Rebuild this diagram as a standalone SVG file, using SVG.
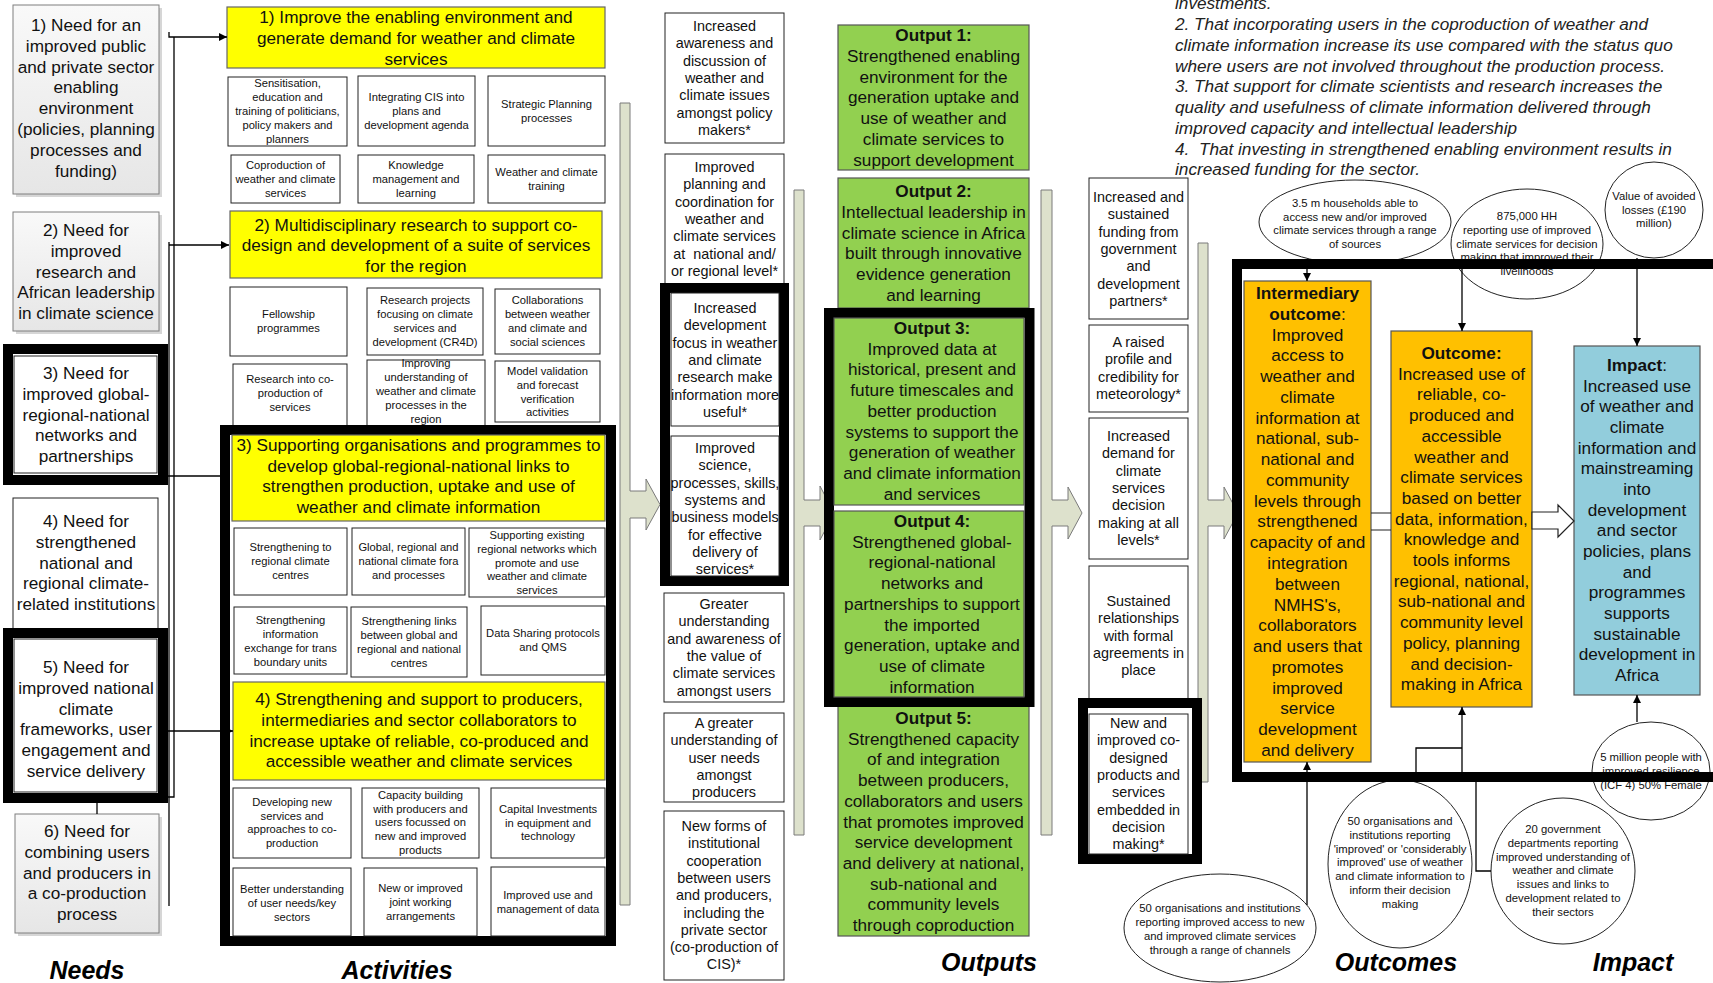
<svg xmlns="http://www.w3.org/2000/svg" width="1713" height="983" viewBox="0 0 1713 983">
<defs>
<linearGradient id="needFill" x1="0" y1="0" x2="0" y2="1">
<stop offset="0" stop-color="#f9f9f9"/><stop offset="1" stop-color="#e6e6e6"/>
</linearGradient>
<marker id="ah" markerWidth="8" markerHeight="8" refX="8" refY="4" orient="auto" markerUnits="userSpaceOnUse"><path d="M0,0 L8,4 L0,8 z" fill="#000"/></marker>
<style>
text{font-family:"Liberation Sans",Arial,sans-serif;fill:#111;text-anchor:middle}
.L{font-size:17.2px}
.i{font-size:14.4px}
.s{font-size:11.2px}
.e{font-size:11.3px}
.b{font-weight:bold}
.it{font-size:17.2px;font-style:italic;text-anchor:start;fill:#222}
.big{font-size:25px;font-weight:bold;font-style:italic;fill:#000}
.need{fill:url(#needFill);stroke:#7f7f7f;stroke-width:1}
.shadow{fill:#d6d6d6}
.box{fill:#fff;stroke:#222;stroke-width:1}
.yel{fill:#ffff00;stroke:#666;stroke-width:1.2}
.grn{fill:#92d050;stroke:#555;stroke-width:1.2}
.org{fill:#ffc000;stroke:#555;stroke-width:1.2}
.blu{fill:#92cddc;stroke:#555;stroke-width:1.2}
.frame{fill:none;stroke:#000;stroke-width:10}
.bar{fill:#dde1cc;stroke:#7a7a7a;stroke-width:1}
.ell{fill:#fff;stroke:#222;stroke-width:1}
.ln{fill:none;stroke:#000;stroke-width:1.3}
.hollow{fill:#fff;stroke:#222;stroke-width:1.2}
</style>
</defs>
<rect width="1713" height="983" fill="#fff"/>

<!-- flow bars with block arrows between columns -->
<g id="flow-bars">
<path class="bar" d="M620,103 H630 V491 H646 V479 L660,504.5 L646,530 V518 H630 V905 H620 Z"/>
<path class="bar" d="M794,190 H804 V500 H820 V486 L834,513 L820,540 V526 H804 V835 H794 Z"/>
<path class="bar" d="M1041,190 H1052 V500 H1068 V487 L1082,513 L1068,539 V526 H1052 V835 H1041 Z"/>
<path class="bar" d="M1198,243 H1208 V500 H1224 V487 L1238,513 L1224,539 V526 H1208 V782 H1198 Z"/>
</g>

<!-- Needs -->
<g id="need1">
<rect class="shadow" x="16" y="8" width="146" height="189"/>
<rect class="need" x="13" y="5" width="146" height="189"/>
<text class="L" y="31"><tspan x="86">1) Need for an</tspan><tspan x="86" dy="20.8">improved public</tspan><tspan x="86" dy="20.8">and private sector</tspan><tspan x="86" dy="20.8">enabling</tspan><tspan x="86" dy="20.8">environment</tspan><tspan x="86" dy="20.8">(policies, planning</tspan><tspan x="86" dy="20.8">processes and</tspan><tspan x="86" dy="20.8">funding)</tspan></text>
</g>
<g id="need2">
<rect class="shadow" x="16" y="215" width="146" height="119"/>
<rect class="need" x="13" y="212" width="146" height="119"/>
<text class="L" y="236"><tspan x="86">2) Need for</tspan><tspan x="86" dy="20.8">improved</tspan><tspan x="86" dy="20.8">research and</tspan><tspan x="86" dy="20.8">African leadership</tspan><tspan x="86" dy="20.8">in climate science</tspan></text>
</g>
<g id="need3">
<rect class="frame" x="8" y="349" width="155" height="131"/>
<rect class="box" x="14" y="356" width="143" height="117"/>
<text class="L" y="379"><tspan x="86">3) Need for</tspan><tspan x="86" dy="20.8">improved global-</tspan><tspan x="86" dy="20.8">regional-national</tspan><tspan x="86" dy="20.8">networks and</tspan><tspan x="86" dy="20.8">partnerships</tspan></text>
</g>
<g id="need4">
<rect class="box" x="13" y="498" width="145" height="135"/>
<text class="L" y="527"><tspan x="86">4) Need for</tspan><tspan x="86" dy="20.8">strengthened</tspan><tspan x="86" dy="20.8">national and</tspan><tspan x="86" dy="20.8">regional climate-</tspan><tspan x="86" dy="20.8">related institutions</tspan></text>
</g>
<g id="need5">
<rect class="frame" x="8" y="633" width="155" height="165"/>
<rect class="box" x="14" y="639" width="143" height="153"/>
<text class="L" y="673"><tspan x="86">5) Need for</tspan><tspan x="86" dy="20.8">improved national</tspan><tspan x="86" dy="20.8">climate</tspan><tspan x="86" dy="20.8">frameworks, user</tspan><tspan x="86" dy="20.8">engagement and</tspan><tspan x="86" dy="20.8">service delivery</tspan></text>
</g>
<g id="need6">
<rect class="shadow" x="18" y="817" width="144" height="119"/>
<rect class="need" x="15" y="814" width="144" height="119"/>
<text class="L" y="837"><tspan x="87">6) Need for</tspan><tspan x="87" dy="20.8">combining users</tspan><tspan x="87" dy="20.8">and producers in</tspan><tspan x="87" dy="20.8">a co-production</tspan><tspan x="87" dy="20.8">process</tspan></text>
</g>

<!-- Activities -->
<g id="activity1">
<rect class="yel" x="227" y="7" width="378" height="61"/>
<text class="L" y="23"><tspan x="416">1) Improve the enabling environment and</tspan><tspan x="416" dy="21">generate demand for weather and climate</tspan><tspan x="416" dy="21">services</tspan></text>
</g>
<g id="act1-sensitisation"><rect class="box" x="228" y="77" width="119" height="69"/><text class="s" y="87"><tspan x="287.5">Sensitisation,</tspan><tspan x="287.5" dy="14">education and</tspan><tspan x="287.5" dy="14">training of politicians,</tspan><tspan x="287.5" dy="14">policy makers and</tspan><tspan x="287.5" dy="14">planners</tspan></text></g>
<g id="act1-integrating"><rect class="box" x="358" y="76" width="117" height="70"/><text class="s" y="101"><tspan x="416.5">Integrating CIS into</tspan><tspan x="416.5" dy="14">plans and</tspan><tspan x="416.5" dy="14">development agenda</tspan></text></g>
<g id="act1-strategic"><rect class="box" x="488" y="76" width="117" height="70"/><text class="s" y="108"><tspan x="546.5">Strategic Planning</tspan><tspan x="546.5" dy="14">processes</tspan></text></g>
<g id="act1-coproduction"><rect class="box" x="231" y="155" width="109" height="48"/><text class="s" y="169"><tspan x="285.5">Coproduction of</tspan><tspan x="285.5" dy="14">weather and climate</tspan><tspan x="285.5" dy="14">services</tspan></text></g>
<g id="act1-knowledge"><rect class="box" x="358" y="155" width="116" height="48"/><text class="s" y="169"><tspan x="416">Knowledge</tspan><tspan x="416" dy="14">management and</tspan><tspan x="416" dy="14">learning</tspan></text></g>
<g id="act1-training"><rect class="box" x="488" y="155" width="117" height="48"/><text class="s" y="176"><tspan x="546.5">Weather and climate</tspan><tspan x="546.5" dy="14">training</tspan></text></g>

<g id="activity2">
<rect class="yel" x="230" y="211" width="372" height="67"/>
<text class="L" y="230.5"><tspan x="416">2) Multidisciplinary research to support co-</tspan><tspan x="416" dy="20.8">design and development of a suite of services</tspan><tspan x="416" dy="20.8">for the region</tspan></text>
</g>
<g id="act2-fellowship"><rect class="box" x="230" y="287" width="117" height="69"/><text class="s" y="318"><tspan x="288.5">Fellowship</tspan><tspan x="288.5" dy="14">programmes</tspan></text></g>
<g id="act2-projects"><rect class="box" x="367" y="288" width="116" height="67"/><text class="s" y="304"><tspan x="425">Research projects</tspan><tspan x="425" dy="14">focusing on climate</tspan><tspan x="425" dy="14">services and</tspan><tspan x="425" dy="14">development (CR4D)</tspan></text></g>
<g id="act2-collaborations"><rect class="box" x="495" y="289" width="105" height="65"/><text class="s" y="304"><tspan x="547.5">Collaborations</tspan><tspan x="547.5" dy="14">between weather</tspan><tspan x="547.5" dy="14">and climate and</tspan><tspan x="547.5" dy="14">social sciences</tspan></text></g>
<g id="act2-coproduction-research"><rect class="box" x="233" y="364" width="114" height="64"/><text class="s" y="383"><tspan x="290">Research into co-</tspan><tspan x="290" dy="14">production of</tspan><tspan x="290" dy="14">services</tspan></text></g>
<g id="act2-processes"><rect class="box" x="367" y="360" width="118" height="68"/><text class="s" y="367"><tspan x="426">Improving</tspan><tspan x="426" dy="14">understanding of</tspan><tspan x="426" dy="14">weather and climate</tspan><tspan x="426" dy="14">processes in the</tspan><tspan x="426" dy="14">region</tspan></text></g>
<g id="act2-validation"><rect class="box" x="495" y="361" width="105" height="61"/><text class="s" y="375"><tspan x="547.5">Model validation</tspan><tspan x="547.5" dy="13.8">and forecast</tspan><tspan x="547.5" dy="13.8">verification</tspan><tspan x="547.5" dy="13.8">activities</tspan></text></g>

<g id="frame-activities-3-4"><rect class="frame" x="225" y="430" width="386" height="511"/></g>

<g id="activity3">
<rect class="yel" x="232" y="435" width="373" height="86"/>
<text class="L" y="451"><tspan x="418.5">3) Supporting organisations and programmes to</tspan><tspan x="418.5" dy="20.7">develop global-regional-national links to</tspan><tspan x="418.5" dy="20.7">strengthen production, uptake and use of</tspan><tspan x="418.5" dy="20.7">weather and climate information</tspan></text>
</g>
<g id="act3-rcc"><rect class="box" x="234" y="528" width="113" height="67"/><text class="s" y="551"><tspan x="290.5">Strengthening to</tspan><tspan x="290.5" dy="14">regional climate</tspan><tspan x="290.5" dy="14">centres</tspan></text></g>
<g id="act3-fora"><rect class="box" x="352" y="528" width="113" height="67"/><text class="s" y="551"><tspan x="408.5">Global, regional and</tspan><tspan x="408.5" dy="14">national climate fora</tspan><tspan x="408.5" dy="14">and processes</tspan></text></g>
<g id="act3-networks"><rect class="box" x="469" y="528" width="136" height="69"/><text class="s" y="539"><tspan x="537">Supporting existing</tspan><tspan x="537" dy="13.8">regional networks which</tspan><tspan x="537" dy="13.8">promote and use</tspan><tspan x="537" dy="13.8">weather and climate</tspan><tspan x="537" dy="13.8">services</tspan></text></g>
<g id="act3-exchange"><rect class="box" x="234" y="607" width="113" height="67"/><text class="s" y="624"><tspan x="290.5">Strengthening</tspan><tspan x="290.5" dy="14">information</tspan><tspan x="290.5" dy="14">exchange for trans</tspan><tspan x="290.5" dy="13.5">boundary units</tspan></text></g>
<g id="act3-links"><rect class="box" x="351" y="607" width="116" height="70"/><text class="s" y="625"><tspan x="409">Strengthening links</tspan><tspan x="409" dy="14">between global and</tspan><tspan x="409" dy="14">regional and national</tspan><tspan x="409" dy="14">centres</tspan></text></g>
<g id="act3-datasharing"><rect class="box" x="481" y="606" width="124" height="69"/><text class="s" y="637"><tspan x="543">Data Sharing protocols</tspan><tspan x="543" dy="14">and QMS</tspan></text></g>

<g id="activity4">
<rect class="yel" x="233" y="682" width="372" height="98"/>
<text class="L" y="705"><tspan x="419">4) Strengthening and support to producers,</tspan><tspan x="419" dy="20.8">intermediaries and sector collaborators to</tspan><tspan x="419" dy="20.8">increase uptake of reliable, co-produced and</tspan><tspan x="419" dy="20.8">accessible weather and climate services</tspan></text>
</g>
<g id="act4-newservices"><rect class="box" x="233" y="788" width="118" height="70"/><text class="s" y="806"><tspan x="292">Developing new</tspan><tspan x="292" dy="13.7">services and</tspan><tspan x="292" dy="13.7">approaches to co-</tspan><tspan x="292" dy="13.7">production</tspan></text></g>
<g id="act4-capacity"><rect class="box" x="362" y="788" width="117" height="70"/><text class="s" y="799"><tspan x="420.5">Capacity building</tspan><tspan x="420.5" dy="13.7">with producers and</tspan><tspan x="420.5" dy="13.7">users focussed on</tspan><tspan x="420.5" dy="13.7">new and improved</tspan><tspan x="420.5" dy="13.7">products</tspan></text></g>
<g id="act4-capital"><rect class="box" x="491" y="788" width="114" height="70"/><text class="s" y="813"><tspan x="548">Capital Investments</tspan><tspan x="548" dy="13.5">in equipment and</tspan><tspan x="548" dy="13.5">technology</tspan></text></g>
<g id="act4-userneeds"><rect class="box" x="233" y="868" width="118" height="68"/><text class="s" y="893"><tspan x="292">Better understanding</tspan><tspan x="292" dy="14">of user needs/key</tspan><tspan x="292" dy="14">sectors</tspan></text></g>
<g id="act4-joint"><rect class="box" x="364" y="868" width="113" height="68"/><text class="s" y="892"><tspan x="420.5">New or improved</tspan><tspan x="420.5" dy="14">joint working</tspan><tspan x="420.5" dy="14">arrangements</tspan></text></g>
<g id="act4-data"><rect class="box" x="491" y="867" width="114" height="69"/><text class="s" y="899"><tspan x="548">Improved use and</tspan><tspan x="548" dy="14">management of data</tspan></text></g>

<!-- immediate results between activities and outputs -->
<g id="result-awareness"><rect class="box" x="665" y="13" width="119" height="130"/><text class="i" y="31"><tspan x="724.5">Increased</tspan><tspan x="724.5" dy="17.3">awareness and</tspan><tspan x="724.5" dy="17.3">discussion of</tspan><tspan x="724.5" dy="17.3">weather and</tspan><tspan x="724.5" dy="17.3">climate issues</tspan><tspan x="724.5" dy="17.3">amongst policy</tspan><tspan x="724.5" dy="17.3">makers*</tspan></text></g>
<g id="result-planning"><rect class="box" x="665" y="154" width="119" height="132"/><text class="i" y="172"><tspan x="724.5">Improved</tspan><tspan x="724.5" dy="17.3">planning and</tspan><tspan x="724.5" dy="17.3">coordination for</tspan><tspan x="724.5" dy="17.3">weather and</tspan><tspan x="724.5" dy="17.3">climate services</tspan><tspan x="724.5" dy="17.3">at&#160; national and/</tspan><tspan x="724.5" dy="17.3">or regional level*</tspan></text></g>
<g id="frame-results"><rect class="frame" x="665" y="288" width="119" height="293"/></g>
<g id="result-research-focus"><rect class="box" x="671" y="293" width="108" height="133"/><text class="i" y="313"><tspan x="725">Increased</tspan><tspan x="725" dy="17.3">development</tspan><tspan x="725" dy="17.3">focus in weather</tspan><tspan x="725" dy="17.3">and climate</tspan><tspan x="725" dy="17.3">research make</tspan><tspan x="725" dy="17.3">information more</tspan><tspan x="725" dy="17.3">useful*</tspan></text></g>
<g id="result-science"><rect class="box" x="671" y="436" width="108" height="140"/><text class="i" y="453"><tspan x="725">Improved</tspan><tspan x="725" dy="17.3">science,</tspan><tspan x="725" dy="17.3">processes, skills,</tspan><tspan x="725" dy="17.3">systems and</tspan><tspan x="725" dy="17.3">business models</tspan><tspan x="725" dy="17.3">for effective</tspan><tspan x="725" dy="17.3">delivery of</tspan><tspan x="725" dy="17.3">services*</tspan></text></g>
<g id="result-value"><rect class="box" x="664" y="593" width="120" height="109"/><text class="i" y="609"><tspan x="724">Greater</tspan><tspan x="724" dy="17.3">understanding</tspan><tspan x="724" dy="17.3">and awareness of</tspan><tspan x="724" dy="17.3">the value of</tspan><tspan x="724" dy="17.3">climate services</tspan><tspan x="724" dy="17.3">amongst users</tspan></text></g>
<g id="result-user-needs"><rect class="box" x="664" y="713" width="120" height="89"/><text class="i" y="728"><tspan x="724">A greater</tspan><tspan x="724" dy="17.3">understanding of</tspan><tspan x="724" dy="17.3">user needs</tspan><tspan x="724" dy="17.3">amongst</tspan><tspan x="724" dy="17.3">producers</tspan></text></g>
<g id="result-cooperation"><rect class="box" x="664" y="811" width="120" height="169"/><text class="i" y="831"><tspan x="724">New forms of</tspan><tspan x="724" dy="17.3">institutional</tspan><tspan x="724" dy="17.3">cooperation</tspan><tspan x="724" dy="17.3">between users</tspan><tspan x="724" dy="17.3">and producers,</tspan><tspan x="724" dy="17.3">including the</tspan><tspan x="724" dy="17.3">private sector</tspan><tspan x="724" dy="17.3">(co-production of</tspan><tspan x="724" dy="17.3">CIS)*</tspan></text></g>

<!-- Outputs -->
<g id="output1"><rect class="grn" x="838" y="25" width="191" height="145"/><text class="L" y="41"><tspan x="933.5" class="b">Output 1:</tspan><tspan x="933.5" dy="20.8">Strengthened enabling</tspan><tspan x="933.5" dy="20.8">environment for the</tspan><tspan x="933.5" dy="20.8">generation uptake and</tspan><tspan x="933.5" dy="20.8">use of weather and</tspan><tspan x="933.5" dy="20.8">climate services to</tspan><tspan x="933.5" dy="20.8">support development</tspan></text></g>
<g id="output2"><rect class="grn" x="838" y="178" width="191" height="130"/><text class="L" y="197"><tspan x="933.5" class="b">Output 2:</tspan><tspan x="933.5" dy="20.8">Intellectual leadership in</tspan><tspan x="933.5" dy="20.8">climate science in Africa</tspan><tspan x="933.5" dy="20.8">built through innovative</tspan><tspan x="933.5" dy="20.8">evidence generation</tspan><tspan x="933.5" dy="20.8">and learning</tspan></text></g>
<g id="output5"><rect class="grn" x="838" y="697" width="191" height="239"/><text class="L" y="724"><tspan x="933.5" class="b">Output 5:</tspan><tspan x="933.5" dy="20.7">Strengthened capacity</tspan><tspan x="933.5" dy="20.7">of and integration</tspan><tspan x="933.5" dy="20.7">between producers,</tspan><tspan x="933.5" dy="20.7">collaborators and users</tspan><tspan x="933.5" dy="20.7">that promotes improved</tspan><tspan x="933.5" dy="20.7">service development</tspan><tspan x="933.5" dy="20.7">and delivery at national,</tspan><tspan x="933.5" dy="20.7">sub-national and</tspan><tspan x="933.5" dy="20.7">community levels</tspan><tspan x="933.5" dy="20.7">through coproduction</tspan></text></g>
<g id="frame-outputs-3-4"><rect class="frame" x="829" y="313" width="200.5" height="389"/></g>
<g id="output3"><rect class="grn" x="834" y="318" width="190" height="187"/><text class="L" y="334"><tspan x="932" class="b">Output 3:</tspan><tspan x="932" dy="20.7">Improved data at</tspan><tspan x="932" dy="20.7">historical, present and</tspan><tspan x="932" dy="20.7">future timescales and</tspan><tspan x="932" dy="20.7">better production</tspan><tspan x="932" dy="20.7">systems to support the</tspan><tspan x="932" dy="20.7">generation of weather</tspan><tspan x="932" dy="20.7">and climate information</tspan><tspan x="932" dy="20.7">and services</tspan></text></g>
<g id="output4"><rect class="grn" x="834" y="511" width="190" height="186"/><text class="L" y="527"><tspan x="932" class="b">Output 4:</tspan><tspan x="932" dy="20.7">Strengthened global-</tspan><tspan x="932" dy="20.7">regional-national</tspan><tspan x="932" dy="20.7">networks and</tspan><tspan x="932" dy="20.7">partnerships to support</tspan><tspan x="932" dy="20.7">the imported</tspan><tspan x="932" dy="20.7">generation, uptake and</tspan><tspan x="932" dy="20.7">use of climate</tspan><tspan x="932" dy="20.7">information</tspan></text></g>

<!-- results between outputs and outcomes -->
<g id="result-funding"><rect class="box" x="1089" y="178" width="99" height="141"/><text class="i" y="202"><tspan x="1138.5">Increased and</tspan><tspan x="1138.5" dy="17.3">sustained</tspan><tspan x="1138.5" dy="17.3">funding from</tspan><tspan x="1138.5" dy="17.3">government</tspan><tspan x="1138.5" dy="17.3">and</tspan><tspan x="1138.5" dy="17.3">development</tspan><tspan x="1138.5" dy="17.3">partners*</tspan></text></g>
<g id="result-profile"><rect class="box" x="1089" y="325" width="99" height="87"/><text class="i" y="347"><tspan x="1138.5">A raised</tspan><tspan x="1138.5" dy="17.3">profile and</tspan><tspan x="1138.5" dy="17.3">credibility for</tspan><tspan x="1138.5" dy="17.3">meteorology*</tspan></text></g>
<g id="result-demand"><rect class="box" x="1089" y="418" width="99" height="141"/><text class="i" y="441"><tspan x="1138.5">Increased</tspan><tspan x="1138.5" dy="17.3">demand for</tspan><tspan x="1138.5" dy="17.3">climate</tspan><tspan x="1138.5" dy="17.3">services</tspan><tspan x="1138.5" dy="17.3">decision</tspan><tspan x="1138.5" dy="17.3">making at all</tspan><tspan x="1138.5" dy="17.3">levels*</tspan></text></g>
<g id="result-relationships"><rect class="box" x="1089" y="566" width="99" height="135"/><text class="i" y="606"><tspan x="1138.5">Sustained</tspan><tspan x="1138.5" dy="17.3">relationships</tspan><tspan x="1138.5" dy="17.3">with formal</tspan><tspan x="1138.5" dy="17.3">agreements in</tspan><tspan x="1138.5" dy="17.3">place</tspan></text></g>
<g id="frame-codesigned"><rect class="frame" x="1083" y="703" width="114" height="156"/></g>
<g id="result-codesigned"><rect class="box" x="1089" y="714" width="99" height="140"/><text class="i" y="728"><tspan x="1138.5">New and</tspan><tspan x="1138.5" dy="17.3">improved co-</tspan><tspan x="1138.5" dy="17.3">designed</tspan><tspan x="1138.5" dy="17.3">products and</tspan><tspan x="1138.5" dy="17.3">services</tspan><tspan x="1138.5" dy="17.3">embedded in</tspan><tspan x="1138.5" dy="17.3">decision</tspan><tspan x="1138.5" dy="17.3">making*</tspan></text></g>

<!-- assumptions -->
<g id="assumptions">
<text class="it" y="9.3"><tspan x="1175">investments.</tspan><tspan x="1175" dy="20.75">2. That incorporating users in the coproduction of weather and</tspan><tspan x="1175" dy="20.75">climate information increase its use compared with the status quo</tspan><tspan x="1175" dy="20.75">where users are not involved throughout the production process.</tspan><tspan x="1175" dy="20.75">3. That support for climate scientists and research increases the</tspan><tspan x="1175" dy="20.75">quality and usefulness of climate information delivered through</tspan><tspan x="1175" dy="20.75">improved capacity and intellectual leadership</tspan><tspan x="1175" dy="20.75">4.&#160; That investing in strengthened enabling environment results in</tspan><tspan x="1175" dy="20.75">increased funding for the sector.</tspan></text>
</g>

<!-- indicators -->
<g id="indicator-households"><ellipse class="ell" cx="1355" cy="222" rx="96" ry="42"/><text class="e" y="207"><tspan x="1355">3.5 m households able to</tspan><tspan x="1355" dy="13.7">access new and/or improved</tspan><tspan x="1355" dy="13.7">climate services through a range</tspan><tspan x="1355" dy="13.7">of sources</tspan></text></g>
<g id="indicator-hh-use"><ellipse class="ell" cx="1527" cy="244" rx="76" ry="55"/><text class="e" y="220"><tspan x="1527">875,000 HH</tspan><tspan x="1527" dy="13.8">reporting use of improved</tspan><tspan x="1527" dy="13.8">climate services for decision</tspan><tspan x="1527" dy="13.8">making that improved their</tspan><tspan x="1527" dy="13.8">livelihoods</tspan></text></g>
<g id="indicator-losses"><ellipse class="ell" cx="1654" cy="210" rx="49" ry="48"/><text class="e" y="200"><tspan x="1654">Value of avoided</tspan><tspan x="1654" dy="13.6">losses (£190</tspan><tspan x="1654" dy="13.6">million)</tspan></text></g>
<g id="indicator-resilience"><ellipse class="ell" cx="1651" cy="771" rx="59" ry="49"/><text class="e" y="761"><tspan x="1651">5 million people with</tspan><tspan x="1651" dy="14">improved resilience</tspan><tspan x="1651" dy="14">(ICF 4) 50% Female</tspan></text></g>
<g id="indicator-org-use"><ellipse class="ell" cx="1400" cy="864" rx="72" ry="84"/><text class="e" y="825"><tspan x="1400">50 organisations and</tspan><tspan x="1400" dy="13.8">institutions reporting</tspan><tspan x="1400" dy="13.8">'improved' or 'considerably</tspan><tspan x="1400" dy="13.8">improved' use of weather</tspan><tspan x="1400" dy="13.8">and climate information to</tspan><tspan x="1400" dy="13.8">inform their decision</tspan><tspan x="1400" dy="13.8">making</tspan></text></g>
<g id="indicator-government"><ellipse class="ell" cx="1563" cy="871" rx="72" ry="73"/><text class="e" y="833"><tspan x="1563">20 government</tspan><tspan x="1563" dy="13.8">departments reporting</tspan><tspan x="1563" dy="13.8">improved understanding of</tspan><tspan x="1563" dy="13.8">weather and climate</tspan><tspan x="1563" dy="13.8">issues and links to</tspan><tspan x="1563" dy="13.8">development related to</tspan><tspan x="1563" dy="13.8">their sectors</tspan></text></g>
<g id="indicator-org-access"><ellipse class="ell" cx="1220" cy="928" rx="96" ry="54"/><text class="e" y="912"><tspan x="1220">50 organisations and institutions</tspan><tspan x="1220" dy="14">reporting improved access to new</tspan><tspan x="1220" dy="14">and improved climate services</tspan><tspan x="1220" dy="14">through a range of channels</tspan></text></g>

<g id="frame-outcomes"><rect class="frame" x="1237" y="264" width="520" height="513"/></g>

<!-- Outcomes and impact -->
<g id="intermediary-outcome"><rect class="org" x="1244" y="281" width="127" height="481"/><text class="L" y="299"><tspan x="1307.5" class="b">Intermediary</tspan><tspan x="1307.5" dy="20.77"><tspan class="b">outcome</tspan>:</tspan><tspan x="1307.5" dy="20.77">Improved</tspan><tspan x="1307.5" dy="20.77">access to</tspan><tspan x="1307.5" dy="20.77">weather and</tspan><tspan x="1307.5" dy="20.77">climate</tspan><tspan x="1307.5" dy="20.77">information at</tspan><tspan x="1307.5" dy="20.77">national, sub-</tspan><tspan x="1307.5" dy="20.77">national and</tspan><tspan x="1307.5" dy="20.77">community</tspan><tspan x="1307.5" dy="20.77">levels through</tspan><tspan x="1307.5" dy="20.77">strengthened</tspan><tspan x="1307.5" dy="20.77">capacity of and</tspan><tspan x="1307.5" dy="20.77">integration</tspan><tspan x="1307.5" dy="20.77">between</tspan><tspan x="1307.5" dy="20.77">NMHS's,</tspan><tspan x="1307.5" dy="20.77">collaborators</tspan><tspan x="1307.5" dy="20.77">and users that</tspan><tspan x="1307.5" dy="20.77">promotes</tspan><tspan x="1307.5" dy="20.77">improved</tspan><tspan x="1307.5" dy="20.77">service</tspan><tspan x="1307.5" dy="20.77">development</tspan><tspan x="1307.5" dy="20.77">and delivery</tspan></text></g>
<g id="outcome"><rect class="org" x="1391" y="331" width="141" height="376"/><text class="L" y="359"><tspan x="1461.5" class="b">Outcome:</tspan><tspan x="1461.5" dy="20.7">Increased use of</tspan><tspan x="1461.5" dy="20.7">reliable, co-</tspan><tspan x="1461.5" dy="20.7">produced and</tspan><tspan x="1461.5" dy="20.7">accessible</tspan><tspan x="1461.5" dy="20.7">weather and</tspan><tspan x="1461.5" dy="20.7">climate services</tspan><tspan x="1461.5" dy="20.7">based on better</tspan><tspan x="1461.5" dy="20.7">data, information,</tspan><tspan x="1461.5" dy="20.7">knowledge and</tspan><tspan x="1461.5" dy="20.7">tools informs</tspan><tspan x="1461.5" dy="20.7">regional, national,</tspan><tspan x="1461.5" dy="20.7">sub-national and</tspan><tspan x="1461.5" dy="20.7">community level</tspan><tspan x="1461.5" dy="20.7">policy, planning</tspan><tspan x="1461.5" dy="20.7">and decision-</tspan><tspan x="1461.5" dy="20.7">making in Africa</tspan></text></g>
<g id="impact"><rect class="blu" x="1574" y="346" width="126" height="349"/><text class="L" y="371"><tspan x="1637"><tspan class="b">Impact</tspan>:</tspan><tspan x="1637" dy="20.67">Increased use</tspan><tspan x="1637" dy="20.67">of weather and</tspan><tspan x="1637" dy="20.67">climate</tspan><tspan x="1637" dy="20.67">information and</tspan><tspan x="1637" dy="20.67">mainstreaming</tspan><tspan x="1637" dy="20.67">into</tspan><tspan x="1637" dy="20.67">development</tspan><tspan x="1637" dy="20.67">and sector</tspan><tspan x="1637" dy="20.67">policies, plans</tspan><tspan x="1637" dy="20.67">and</tspan><tspan x="1637" dy="20.67">programmes</tspan><tspan x="1637" dy="20.67">supports</tspan><tspan x="1637" dy="20.67">sustainable</tspan><tspan x="1637" dy="20.67">development in</tspan><tspan x="1637" dy="20.67">Africa</tspan></text></g>

<!-- connectors -->
<g id="connectors">
<path class="ln" d="M169,32 V37 H227" marker-end="url(#ah)"/>
<path class="ln" d="M174,37 V797 H168"/>
<path class="ln" d="M169,242 V906"/>
<path class="ln" d="M169,245 H229" marker-end="url(#ah)"/>
<path class="ln" d="M168,476 H220"/>
<path class="ln" d="M168,731 H233" marker-end="url(#ah)"/>
<path class="ln" d="M97,803 V814"/>
<path d="M1371,513 H1391 M1371,530 H1391" stroke="#222" stroke-width="1.2" fill="none"/>
<path class="hollow" d="M1532,512 H1558 V505 L1574,521 L1558,537 V529 H1532 Z"/>
<path class="ln" d="M1307,262 V281" marker-end="url(#ah)"/>
<path class="ln" d="M1462,269 V331" marker-end="url(#ah)"/>
<path class="ln" d="M1637,258 V346" marker-end="url(#ah)"/>
<path class="ln" d="M1637,722 V695" marker-end="url(#ah)"/>
<path class="ln" d="M1416,782 V748 H1462"/>
<path class="ln" d="M1462,776 V707" marker-end="url(#ah)"/>
<path class="ln" d="M1476,776 V871 H1491"/>
<path class="ln" d="M1307,905 V762" marker-end="url(#ah)"/>
</g>

<!-- column headings -->
<g id="headings">
<text class="big" x="87" y="979">Needs</text>
<text class="big" x="397" y="979">Activities</text>
<text class="big" x="989" y="971">Outputs</text>
<text class="big" x="1396" y="971">Outcomes</text>
<text class="big" x="1633" y="971">Impact</text>
</g>
</svg>
